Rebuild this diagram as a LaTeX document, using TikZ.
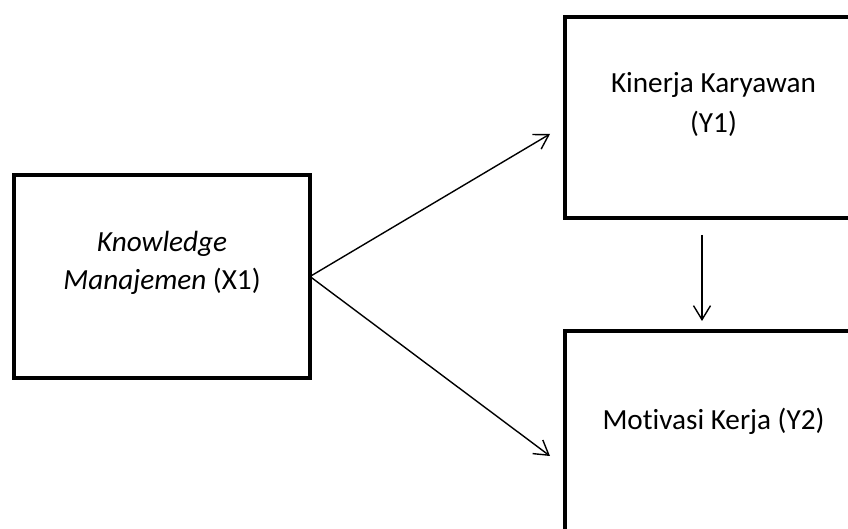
\documentclass[tikz,border=0pt]{standalone}
\usepackage{fontspec}
\setmainfont[Ligatures=NoCommon]{Carlito}
\usetikzlibrary{arrows.meta}

\tikzset{every path/.style={line width=0.7pt}}
\tikzset{kotak/.style={draw,line width=2.1pt,inner sep=0pt,outer sep=0pt,anchor=north west},
  teks/.style={anchor=base,inner sep=0pt,font=\fontsize{14.6}{19.5}\selectfont},
  panah/.style={-{Straight Barb[length=7pt,width=8.5pt]}}}

\begin{document}
\begin{tikzpicture}[x=0.5pt,y=-0.5pt]
\useasboundingbox (0,0) rectangle (848,529);
% kotak
\node[kotak,minimum width=148pt,minimum height=101.5pt] (km) at (14,175) {};
\node[kotak,minimum width=217.5pt,minimum height=100.5pt] (kk) at (565,17) {};
\node[kotak,minimum width=217.5pt,minimum height=200pt] (mk) at (565,331) {};
% teks
\node[teks] (km1) at (162,252) {\textit{Knowledge}};
\node[teks] (km2) at (162,290) {\textit{Manajemen} (X1)};
\node[teks] (kk1) at (713.5,93) {Kinerja Karyawan};
\node[teks] (kk2) at (713.5,133) {(Y1)};
\node[teks] (mk1) at (713.5,430) {Motivasi Kerja (Y2)};
% panah
\draw[panah] (km.east) -- ([shift={(-15,16.5)}]kk.west);
\draw[panah] (km.east) -- ([shift={(-15,-75)}]mk.west);
\draw[panah] ([shift={(-80.5,17)}]kk.south) -- ([shift={(-80.5,-10)}]mk.north);
\end{tikzpicture}
\end{document}
